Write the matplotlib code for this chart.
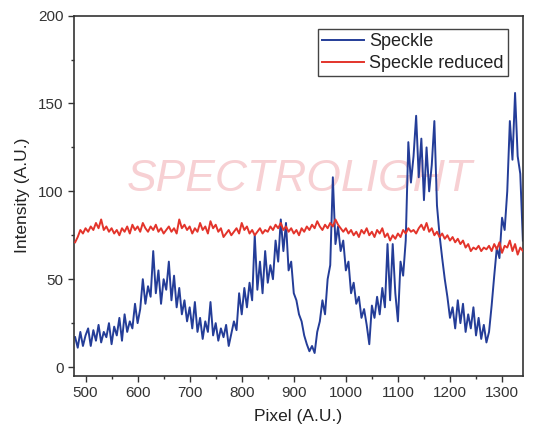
import numpy as np
import matplotlib
matplotlib.use("Agg")
import matplotlib.pyplot as plt
from matplotlib.ticker import MultipleLocator

# ---- data ----
pixel_first, pixel_last = 480, 1340

speckle = [
    17, 11, 20, 12, 18, 22, 12, 21, 15, 24,
    14, 20, 17, 25, 13, 23, 18, 28, 15, 30,
    20, 26, 22, 36, 25, 33, 50, 36, 46, 40,
    66, 42, 55, 36, 50, 44, 60, 38, 52, 34,
    45, 30, 38, 26, 34, 22, 37, 20, 28, 16,
    26, 20, 37, 18, 25, 15, 22, 17, 24, 12,
    19, 26, 21, 42, 30, 45, 34, 48, 38, 75,
    44, 60, 42, 66, 48, 58, 50, 72, 60, 84,
    66, 82, 55, 60, 42, 38, 30, 26, 18, 13,
    9, 12, 8, 20, 26, 38, 30, 50, 58, 108,
    70, 80, 66, 72, 55, 60, 42, 48, 36, 40,
    28, 33, 24, 13, 35, 28, 40, 30, 45, 34,
    70, 38, 70, 42, 26, 60, 52, 72, 128, 105,
    120, 143, 108, 130, 95, 125, 100, 115, 140, 92,
    75, 62, 50, 40, 28, 34, 22, 38, 25, 36,
    20, 30, 22, 34, 18, 28, 16, 24, 14, 20,
    35, 52, 68, 62, 85, 78, 100, 140, 118, 156,
    120, 110, 72,
]

speckle_reduced = [
    71, 74, 78, 76, 79, 77, 80, 78, 82, 79,
    84, 78, 80, 77, 79, 76, 78, 75, 79, 77,
    80, 76, 81, 78, 80, 77, 82, 79, 77, 80,
    78, 81, 77, 79, 76, 78, 80, 77, 79, 76,
    84, 79, 81, 78, 80, 76, 79, 77, 82, 78,
    80, 76, 83, 79, 81, 77, 79, 74, 76, 78,
    75, 77, 79, 76, 82, 78, 80, 76, 78, 75,
    77, 79, 76, 78, 77, 80, 78, 81, 79, 82,
    78, 80, 77, 79, 76, 78, 75, 79, 77, 80,
    78, 81, 79, 83, 80, 78, 81, 79, 82, 80,
    84, 81, 79, 77, 79, 76, 78, 75, 77, 74,
    78, 76, 79, 75, 77, 74, 78, 76, 79, 74,
    76, 72, 75, 73, 76, 74, 78, 76, 79, 77,
    78, 76, 79, 81, 78, 82, 77, 79, 75, 77,
    74, 76, 73, 75, 72, 74, 71, 73, 70, 72,
    68, 70, 66, 68, 67, 69, 66, 68, 67, 69,
    66, 70, 67, 71, 65, 69, 68, 72, 66, 70,
    64, 68, 66,
]

x_ticks = [500, 600, 700, 800, 900, 1000, 1100, 1200, 1300]
y_ticks = [0, 50, 100, 150, 200]

# ---- figure ----
plt.rcParams['font.family'] = ['Liberation Sans', 'DejaVu Sans']
fig = plt.figure(figsize=(5.33, 4.34), dpi=100)
ax = fig.add_axes([0.139, 0.134, 0.842, 0.830])

x_s = np.linspace(pixel_first, pixel_last, len(speckle))
x_r = np.linspace(pixel_first, pixel_last, len(speckle_reduced))

ax.text(0.503, 0.545, "SPECTROLIGHT", transform=ax.transAxes,
        ha='center', va='center', fontsize=32, style='italic',
        color='#f7d0d3', zorder=0.5)

ax.plot(x_s, speckle, color='#243d98', lw=1.4, label='Speckle', zorder=2)
ax.plot(x_r, speckle_reduced, color='#e3342b', lw=1.4,
        label='Speckle reduced', zorder=3)

ax.set_xlim(478, 1340)
ax.set_ylim(-5, 200)
ax.set_xticks(x_ticks)
ax.set_yticks(y_ticks)
ax.xaxis.set_minor_locator(MultipleLocator(50))
ax.yaxis.set_minor_locator(MultipleLocator(25))
ax.tick_params(which='major', direction='out', length=4, width=1,
               labelsize=11, colors='#333333')
ax.tick_params(which='minor', direction='out', length=2.5, width=1,
               colors='#333333')
for s in ax.spines.values():
    s.set_color('#333333')
    s.set_linewidth(1.2)

ax.set_xlabel('Pixel (A.U.)', fontsize=12.5, color='#222222', labelpad=6)
ax.set_ylabel('Intensity (A.U.)', fontsize=12.5, color='#222222', labelpad=6)

leg = ax.legend(loc='upper right', bbox_to_anchor=(0.967, 0.963),
                borderaxespad=0, fontsize=13, handlelength=2.3,
                handletextpad=0.3, labelspacing=0.25, borderpad=0.25,
                fancybox=False, framealpha=1, edgecolor='#444444')
leg.get_frame().set_linewidth(1.0)
for t in leg.get_texts():
    t.set_color('#222222')

fig.savefig('out.png', dpi=100)
